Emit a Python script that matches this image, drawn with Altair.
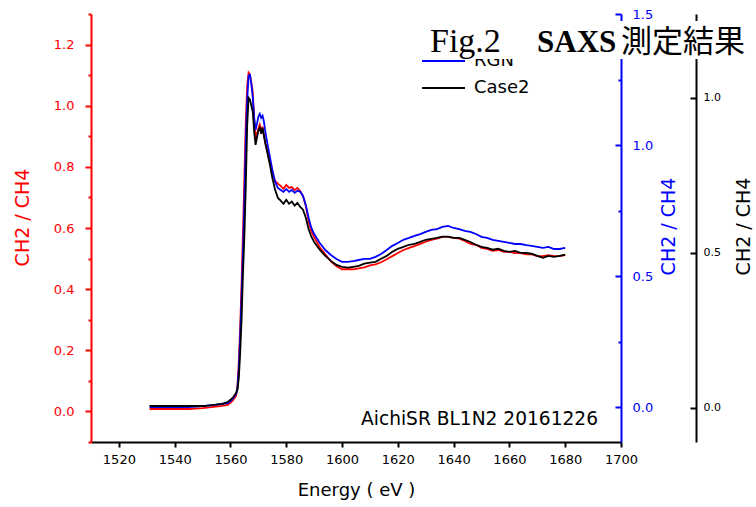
import altair as alt
import pandas as pd

# ---------------- data ----------------
energy = [1531, 1535, 1540, 1545, 1550, 1554, 1557, 1559, 1560, 1561, 1562, 1562.5,
          1563, 1563.5, 1564, 1564.5, 1565, 1565.5, 1566, 1566.5, 1567, 1567.5, 1568,
          1568.5, 1569, 1569.5, 1570, 1570.5, 1571, 1571.5, 1572, 1572.5, 1573, 1574,
          1575, 1576, 1577, 1578, 1579, 1580, 1581, 1582, 1583, 1584, 1585, 1586, 1587,
          1588, 1589, 1590, 1592, 1594, 1596, 1598, 1600, 1602, 1604, 1606, 1608, 1610,
          1612, 1614, 1616, 1618, 1620, 1622, 1624, 1626, 1628, 1630, 1632, 1634, 1636,
          1638, 1640, 1642, 1644, 1646, 1648, 1650, 1652, 1654, 1656, 1658, 1660, 1662,
          1664, 1666, 1668, 1670, 1672, 1674, 1676, 1678, 1680]

# red series, left (red) axis units
red_vals = [0.008, 0.008, 0.008, 0.008, 0.011, 0.015, 0.018, 0.021, 0.028, 0.038, 0.051, 0.083,
            0.165, 0.280, 0.427, 0.591, 0.771, 0.951, 1.066, 1.108, 1.101, 1.075, 1.043,
            0.958, 0.892, 0.909, 0.925, 0.938, 0.918, 0.931, 0.902, 0.879, 0.860, 0.820,
            0.781, 0.754, 0.745, 0.738, 0.728, 0.741, 0.731, 0.734, 0.724, 0.731, 0.721, 0.704, 0.672,
            0.622, 0.589, 0.570, 0.537, 0.514, 0.491, 0.475, 0.465, 0.465, 0.465, 0.468, 0.471, 0.478,
            0.481, 0.488, 0.498, 0.508, 0.518, 0.528, 0.535, 0.541, 0.548, 0.555, 0.561, 0.565, 0.571,
            0.571, 0.568, 0.565, 0.558, 0.548, 0.545, 0.535, 0.532, 0.525, 0.528, 0.522, 0.522, 0.518,
            0.518, 0.514, 0.514, 0.508, 0.508, 0.511, 0.508, 0.508, 0.511]

# blue series, first right (blue) axis units
blue_vals = [0.001, 0.001, 0.001, 0.001, 0.005, 0.009, 0.013, 0.016, 0.024, 0.035, 0.051, 0.074,
             0.150, 0.276, 0.429, 0.600, 0.791, 1.020, 1.173, 1.265, 1.268, 1.230, 1.181,
             1.104, 1.058, 1.081, 1.108, 1.119, 1.104, 1.112, 1.089, 1.051, 1.020, 0.963,
             0.906, 0.860, 0.837, 0.829, 0.822, 0.833, 0.822, 0.829, 0.818, 0.826, 0.822, 0.806, 0.772,
             0.723, 0.684, 0.661, 0.627, 0.600, 0.581, 0.566, 0.555, 0.555, 0.558, 0.562, 0.566, 0.566,
             0.574, 0.585, 0.600, 0.616, 0.627, 0.639, 0.646, 0.654, 0.661, 0.669, 0.677, 0.680, 0.688,
             0.692, 0.684, 0.680, 0.673, 0.669, 0.661, 0.650, 0.646, 0.639, 0.635, 0.631, 0.627, 0.623,
             0.623, 0.619, 0.616, 0.612, 0.608, 0.612, 0.604, 0.604, 0.608]

# black series, second right (black) axis units
black_vals = [0.006, 0.006, 0.006, 0.006, 0.006, 0.010, 0.013, 0.019, 0.026, 0.035, 0.048, 0.058,
              0.097, 0.181, 0.290, 0.439, 0.558, 0.719, 0.913, 1.000, 0.994, 0.974, 0.955,
              0.890, 0.848, 0.871, 0.894, 0.903, 0.884, 0.903, 0.877, 0.852, 0.832, 0.790,
              0.742, 0.703, 0.677, 0.668, 0.658, 0.671, 0.658, 0.665, 0.652, 0.661, 0.648, 0.639, 0.613,
              0.577, 0.552, 0.535, 0.510, 0.490, 0.474, 0.461, 0.455, 0.452, 0.455, 0.458, 0.465, 0.468,
              0.471, 0.481, 0.490, 0.503, 0.513, 0.519, 0.526, 0.529, 0.535, 0.542, 0.545, 0.548, 0.552,
              0.552, 0.548, 0.548, 0.542, 0.535, 0.526, 0.519, 0.516, 0.510, 0.513, 0.506, 0.503, 0.506,
              0.500, 0.500, 0.497, 0.490, 0.484, 0.490, 0.487, 0.490, 0.494]

series_colors = ["#ff0000", "#0000ff", "#000000"]
# legend entries visible in the reference (the first row is hidden under the title)
legend_names = ["RGN", "Case2"]
legend_colors = ["#0000ff", "#000000"]

x_ticks = [1520, 1540, 1560, 1580, 1600, 1620, 1640, 1660, 1680, 1700]
red_ticks = [-0.1, 0.0, 0.1, 0.2, 0.3, 0.4, 0.5, 0.6, 0.7, 0.8, 0.9, 1.0, 1.1, 1.2, 1.3]
blue_ticks = [0.0, 0.25, 0.5, 0.75, 1.0, 1.25, 1.5]
black_ticks = [0.0, 0.5, 1.0]

y_title = "CH2 / CH4"
x_title = "Energy ( eV )"
note = "AichiSR BL1N2 20161226"
title_parts = ["Fig.2", "SAXS", "測定結果"]

# ---------------- layout ----------------
W, H = 530, 428
FONT = "DejaVu Sans"

xenc = alt.X(
    "E:Q",
    scale=alt.Scale(domain=[1510, 1700], nice=False, zero=False),
    axis=alt.Axis(values=x_ticks, format="d", labelFlush=False, labelOverlap=False,
                  tickSize=5, tickWidth=2, domainWidth=2, domainColor="black",
                  tickColor="black", labelColor="black", labelFont=FONT, labelFontSize=13,
                  labelPadding=6, grid=False, title=x_title, titleFont=FONT,
                  titleFontSize=18, titleFontWeight="normal", titleColor="black",
                  titleY=53, titleBaseline="alphabetic"),
)


def yaxis(color, ticks, major_test, orient_offset, label_pad, label_align,
          title_x, title_y, label_size):
    return alt.Axis(
        orient="left", offset=orient_offset, values=ticks, grid=False,
        labelExpr=f"{major_test} ? format(datum.value, '.1f') : ''",
        labelOverlap=False, labelFlush=False,
        tickSize={"condition": {"test": major_test, "value": 6}, "value": 3},
        tickWidth=2, domainWidth=2, domainColor=color, tickColor=color,
        labelColor=color, labelFont=FONT, labelFontSize=label_size,
        labelPadding=label_pad, labelAlign=label_align,
        title=y_title, titleColor=color, titleFont=FONT, titleFontSize=19,
        titleFontWeight="normal", titleAngle=270, titleBaseline="middle",
        titleAlign="center", titleX=title_x, titleY=title_y,
    )


red_df = pd.DataFrame({"E": energy, "v": red_vals})
blue_df = pd.DataFrame({"E": energy, "v": blue_vals})
black_df = pd.DataFrame({"E": energy, "v": black_vals})

red_test = "abs(round(datum.value*10)) % 2 == 0"
blue_test = "abs(round(datum.value*4)) % 2 == 0"

red_line = alt.Chart(red_df).mark_line(color=series_colors[0], strokeWidth=1.8).encode(
    x=xenc,
    y=alt.Y("v:Q", scale=alt.Scale(domain=[-0.1, 1.3], nice=False, zero=False),
            axis=yaxis(series_colors[0], red_ticks, red_test, 0, 11, "right", -69, 203, 13)),
)
blue_line = alt.Chart(blue_df).mark_line(color=series_colors[1], strokeWidth=1.8).encode(
    x=xenc,
    y=alt.Y("v:Q", scale=alt.Scale(domain=[-0.132, 1.5], nice=False, zero=False),
            axis=yaxis(series_colors[1], blue_ticks, blue_test, -W, -17, "left", 47, 212, 13)),
)
black_line = alt.Chart(black_df).mark_line(color=series_colors[2], strokeWidth=1.8).encode(
    x=xenc,
    y=alt.Y("v:Q", scale=alt.Scale(domain=[-0.11, 1.27], nice=False, zero=False),
            axis=yaxis(series_colors[2], black_ticks, "true", -(W + 75), -13, "left", 47, 212, 11)),
)

# ---------------- legend (drawn by hand, partly hidden by the title box) ----------------
legend_layers = []
for k, (name, col) in enumerate(zip(legend_names, legend_colors)):
    yy = 47 + 27 * k
    legend_layers.append(
        alt.Chart(pd.DataFrame({"label": [name]})).mark_rule(color=col, strokeWidth=1.8).encode(
            x=alt.value(331), x2=alt.value(374), y=alt.value(yy))
    )
    legend_layers.append(
        alt.Chart(pd.DataFrame({"label": [name]})).mark_text(
            align="left", baseline="middle", font=FONT, fontSize=18, color="black").encode(
            text="label:N", x=alt.value(383), y=alt.value(yy))
    )

note_text = alt.Chart(pd.DataFrame({"t": [note]})).mark_text(
    align="right", baseline="alphabetic", font=FONT, fontSize=18.6, color="black").encode(
    text="t:N", x=alt.value(507), y=alt.value(411))

title_box = alt.Chart(pd.DataFrame({"t": [title_parts[0]]})).mark_rect(
    color="white", opacity=1).encode(
    x=alt.value(327), x2=alt.value(668), y=alt.value(7), y2=alt.value(45))

t1 = alt.Chart(pd.DataFrame({"t": [title_parts[0]]})).mark_text(
    align="left", baseline="alphabetic", font="Liberation Serif", fontSize=34,
    color="black").encode(text="t:N", x=alt.value(339), y=alt.value(38))
t2 = alt.Chart(pd.DataFrame({"t": [title_parts[1]]})).mark_text(
    align="left", baseline="alphabetic", font="Liberation Serif", fontSize=31,
    fontWeight="bold", color="black").encode(text="t:N", x=alt.value(446), y=alt.value(38))
t3 = alt.Chart(pd.DataFrame({"t": [title_parts[2]]})).mark_text(
    align="left", baseline="alphabetic", font="Noto Sans CJK JP", fontSize=31,
    color="black").encode(text="t:N", x=alt.value(530), y=alt.value(38))

chart = alt.layer(
    red_line, blue_line, black_line, *legend_layers, note_text, title_box, t1, t2, t3
).resolve_scale(y="independent").properties(
    width=W, height=H,
    autosize=alt.AutoSizeParams(type="none"),
    padding={"left": 91, "top": 14, "right": 135, "bottom": 65},
    background="white",
).configure_view(stroke=None)

chart.save("out.html", embed_options={"renderer": "svg", "actions": False})
